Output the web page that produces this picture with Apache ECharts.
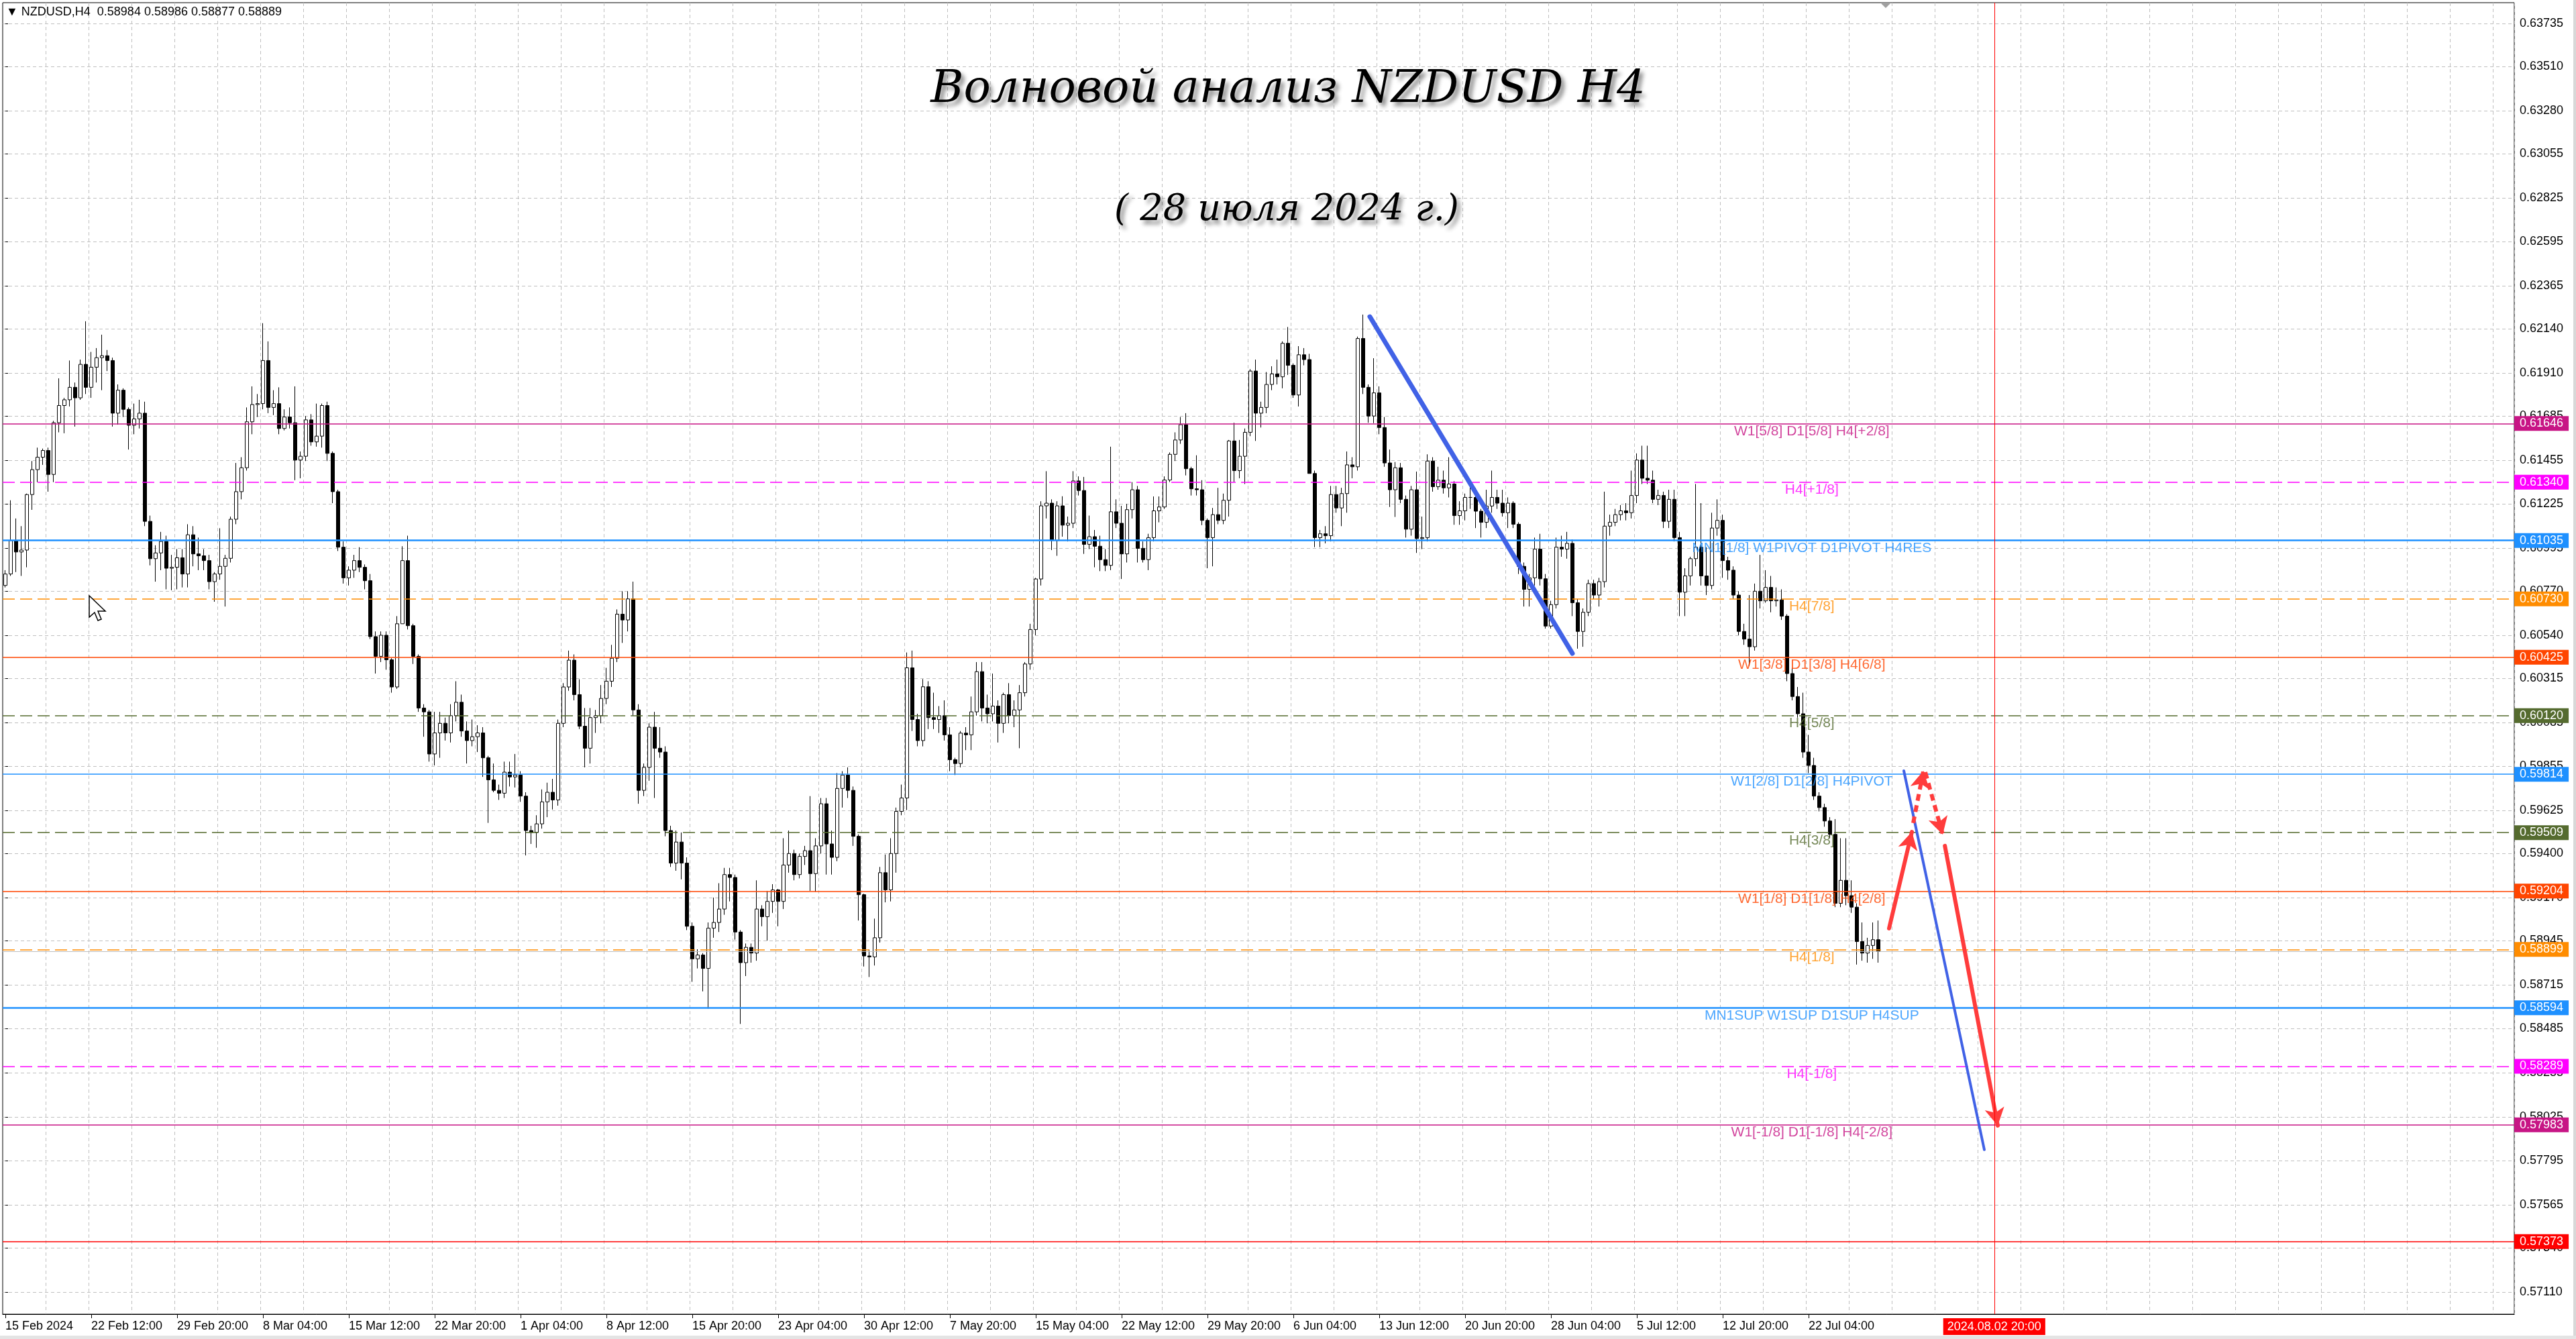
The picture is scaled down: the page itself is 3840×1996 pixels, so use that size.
<!DOCTYPE html>
<html><head><meta charset="utf-8">
<script src="https://cdn.jsdelivr.net/npm/echarts@6/dist/echarts.min.js"></script>
<style>html,body{margin:0;padding:0;background:#fff;overflow:hidden}#c{width:3840px;height:1996px}</style>
</head><body><div id="c"></div>
<script>
// Prices are stored in points (0.00001) above BASE.
const BASE = 0.57;
const OPEN = [
3800,3860,4035,3975,3985,4275,4405,4470,4505,4380,
4650,4740,4770,4835,4780,4955,4835,4940,4990,5000,
4975,4700,4820,4720,4637,4670,4700,4135,3940,3970,
4030,3890,3895,3945,3860,4065,3965,3955,3930,3820,
3860,3900,3942,4146,4290,4415,4655,4745,4750,4975,
4730,4750,4620,4680,4650,4455,4475,4665,4550,4580,
4740,4490,4290,4000,3840,3880,3930,3895,3825,3533,
3430,3540,3412,3270,3600,3930,3590,3430,3160,3140,
2920,3030,3080,3030,3120,3190,3040,2990,3010,3030,
2900,2785,2730,2715,2825,2800,2810,2700,2520,2510,
2555,2670,2720,2680,3080,3270,3410,3230,3065,2950,
3110,3120,3210,3300,3420,3650,3620,3730,3150,2730,
2850,3060,2950,2930,2520,2350,2460,2350,2020,1850,
1870,1800,2010,2040,2110,2290,2275,1990,1830,1910,
1880,2110,2070,2150,2210,2150,2340,2400,2290,2385,
2415,2295,2440,2660,2450,2380,2740,2810,2730,2490,
2185,1865,1860,1960,2300,2210,2400,2620,2690,3370,
3100,2990,3271,3110,3100,3120,3020,2890,2870,3029,
3020,3140,3350,3160,3130,3170,3080,3230,3120,3150,
3240,3390,3570,3834,4216,4230,4035,4216,4115,4125,
4346,4296,4015,4055,4005,3935,3905,4185,4125,3965,
4196,4300,3994,3935,4050,4190,4210,4351,4485,4560,
4640,4410,4305,4300,4140,4050,4170,4140,4245,4555,
4400,4475,4600,4920,4700,4730,4850,4905,4890,5065,
4950,4795,5005,4980,4385,4050,4070,4060,4275,4205,
4280,4430,4420,5090,4835,4685,4806,4625,4440,4300,
4415,4250,4094,4300,4045,4050,4450,4316,4350,4310,
4330,4165,4190,4260,4260,4188,4130,4215,4260,4230,
4180,4230,4120,3900,3780,3840,3990,3835,3588,3700,
4000,3990,4020,3710,3560,3660,3810,3750,3820,4110,
4130,4170,4190,4180,4270,4455,4360,4350,4250,4270,
4135,4250,4050,3765,3850,3940,4000,3850,3800,4100,
4140,3930,3880,3750,3560,3520,3480,3770,3720,3790,
3720,3725,3640,3340,3220,3130,2930,2860,2700,2640,
2570,2500,2140,2260,2180,2120,1940,1880,1920,1950
];
const CLOSE = [
3860,4035,3975,3985,4275,4405,4470,4505,4380,4650,
4740,4770,4835,4780,4955,4835,4940,4990,5000,4975,
4700,4820,4720,4637,4670,4700,4135,3940,3970,4030,
3890,3895,3945,3860,4065,3965,3955,3930,3820,3860,
3900,3942,4146,4290,4415,4655,4745,4750,4975,4730,
4750,4620,4680,4650,4455,4475,4665,4550,4580,4740,
4490,4290,4000,3840,3880,3930,3895,3825,3533,3430,
3540,3412,3270,3600,3930,3590,3430,3160,3140,2920,
3030,3080,3030,3120,3190,3040,2990,3010,3030,2900,
2785,2730,2715,2825,2800,2810,2700,2520,2510,2555,
2670,2720,2680,3080,3270,3410,3230,3065,2950,3110,
3120,3210,3300,3420,3650,3620,3730,3150,2730,2850,
3060,2950,2930,2520,2350,2460,2350,2020,1850,1870,
1800,2010,2040,2110,2290,2275,1990,1830,1910,1880,
2110,2070,2150,2210,2150,2340,2400,2290,2385,2415,
2295,2440,2660,2450,2380,2740,2810,2730,2490,2185,
1865,1860,1960,2300,2210,2400,2620,2690,3370,3100,
2990,3271,3110,3100,3120,3020,2890,2870,3029,3020,
3140,3350,3160,3130,3170,3080,3230,3120,3150,3240,
3390,3570,3834,4216,4230,4035,4216,4115,4125,4346,
4296,4015,4055,4005,3935,3905,4185,4125,3965,4196,
4300,3994,3935,4050,4190,4210,4351,4485,4560,4640,
4410,4305,4300,4140,4050,4170,4140,4245,4555,4400,
4475,4600,4920,4700,4730,4850,4905,4890,5065,4950,
4795,5005,4980,4385,4050,4070,4060,4275,4205,4280,
4430,4420,5090,4835,4685,4806,4625,4440,4300,4415,
4250,4094,4300,4045,4050,4450,4316,4350,4310,4330,
4165,4190,4260,4260,4188,4130,4215,4260,4230,4180,
4230,4120,3900,3780,3840,3990,3835,3588,3700,4000,
3990,4020,3710,3560,3660,3810,3750,3820,4110,4130,
4170,4190,4180,4270,4455,4360,4350,4250,4270,4135,
4250,4050,3765,3850,3940,4000,3850,3800,4100,4140,
3930,3880,3750,3560,3520,3480,3770,3720,3790,3720,
3725,3640,3340,3220,3130,2930,2860,2700,2640,2570,
2500,2140,2260,2180,2120,1940,1880,1920,1950,1889
];
const LOW = [
3790,3850,3870,3850,3895,4195,4340,4430,4290,4340,
4600,4595,4735,4630,4770,4800,4780,4860,4820,4920,
4630,4640,4680,4510,4590,4620,4110,3905,3820,3880,
3780,3775,3780,3790,3790,3900,3880,3880,3780,3715,
3830,3690,3920,4120,4250,4400,4590,4680,4720,4700,
4690,4590,4610,4620,4350,4360,4450,4530,4525,4520,
4450,4230,3980,3810,3800,3840,3870,3780,3520,3340,
3400,3360,3240,3260,3600,3570,3390,3140,3010,2880,
2860,2900,2990,2980,3090,3010,2870,2960,2930,2800,
2560,2720,2680,2690,2750,2745,2670,2390,2450,2430,
2530,2590,2630,2650,3060,3250,3200,3050,2850,2870,
3030,3080,3180,3270,3400,3500,3560,3120,2660,2700,
2780,2690,2900,2490,2330,2310,2265,2000,1730,1800,
1680,1590,1960,1990,2080,2150,1950,1510,1760,1830,
1840,2020,1945,2090,2020,2110,2300,2260,2270,2340,
2205,2200,2400,2290,2290,2360,2640,2690,2440,2050,
1810,1755,1815,1935,2145,2150,2300,2600,2627,3040,
2960,2960,3050,3050,3030,2990,2830,2810,2850,2940,
2940,3120,3090,3080,3090,2980,3030,3080,3060,2950,
3220,3360,3540,3800,4150,3985,3955,4055,4030,4100,
4270,3965,3990,3895,3875,3875,3880,4100,3834,3920,
4150,3920,3920,3880,4030,4130,4200,4340,4450,4540,
4375,4270,4270,4115,3890,3900,4120,4120,4160,4340,
4360,4330,4580,4555,4625,4700,4820,4850,4830,4900,
4780,4735,4950,4385,4000,4000,4020,4030,4180,4110,
4180,4360,4400,4800,4650,4648,4590,4420,4210,4158,
4230,4050,4060,3970,3990,4030,4290,4300,4280,4260,
4117,4117,4140,4200,4100,4050,4100,4180,4200,4160,
4100,4100,3860,3690,3690,3800,3800,3575,3575,3680,
3950,3940,3640,3470,3480,3640,3730,3690,3790,4060,
4110,4140,4140,4150,4230,4330,4330,4230,4220,4100,
4100,4030,3640,3640,3800,3900,3800,3750,3780,4060,
3840,3830,3730,3540,3490,3380,3460,3680,3710,3660,
3690,3620,3300,3200,3110,2900,2820,2680,2620,2540,
2480,2120,2120,2130,2090,1820,1840,1830,1850,1830
];
const HIGH = [
3880,4245,4150,4110,4280,4450,4520,4515,4520,4660,
4882,4780,4975,4860,4980,5180,5020,5040,5110,5030,
4990,4850,4830,4730,4750,4770,4760,4165,4010,4080,
4060,3960,3990,3990,4120,4110,4050,3990,3960,3870,
4099,3960,4160,4440,4470,4730,4840,4800,5170,5075,
4820,4835,4720,4730,4840,4500,4685,4695,4750,4750,
4760,4500,4300,4030,3900,3960,4000,3910,3860,3560,
3560,3560,3420,3640,4005,4060,3600,3440,3180,3150,
3140,3140,3110,3180,3300,3230,3090,3100,3070,3060,
2910,2870,2760,2880,2880,2920,2830,2720,2545,2600,
2735,2770,2790,3100,3290,3460,3440,3310,3160,3160,
3150,3280,3370,3490,3675,3770,3770,3820,3180,2870,
3080,3140,3060,2960,2545,2520,2510,2380,2040,1900,
1880,2040,2170,2245,2325,2325,2290,2000,1930,1930,
2260,2130,2205,2240,2215,2480,2520,2420,2400,2440,
2700,2480,2690,2690,2520,2820,2830,2850,2750,2500,
2190,1900,2060,2330,2395,2480,2640,2760,3450,3460,
3130,3311,3300,3240,3170,3200,3060,2900,3040,3060,
3220,3400,3400,3230,3340,3200,3240,3290,3200,3280,
3400,3600,3840,4240,4397,4250,4240,4266,4160,4397,
4370,4367,4165,4090,4060,3990,4525,4250,4216,4226,
4340,4320,4030,4070,4265,4265,4370,4495,4600,4680,
4700,4420,4480,4350,4150,4205,4310,4280,4560,4650,
4560,4620,4930,4980,4760,4915,4945,4980,5075,5150,
4960,5050,5040,5010,4400,4090,4110,4320,4320,4310,
4500,4470,5100,5215,4850,4987,4840,4680,4510,4445,
4440,4270,4320,4395,4160,4485,4470,4420,4400,4470,
4345,4240,4280,4330,4310,4200,4300,4400,4300,4300,
4260,4240,4130,3920,3860,4050,4070,3860,3720,4050,
4060,4080,4040,3730,3680,3830,3830,3840,4290,4170,
4200,4220,4230,4400,4490,4530,4530,4400,4300,4290,
4300,4300,4080,3890,3950,4330,4230,4000,4180,4250,
4170,3950,3900,3770,3600,3750,3810,3960,3880,3850,
3790,3780,3650,3370,3270,3240,3020,2900,2720,2660,
2590,2580,2480,2480,2260,2140,2040,1960,2040,2050
];
// Each candle = two H4 bars; labels every 16 candles (32 H4 bars).
const TIME_LABELS = ['15 Feb 2024','22 Feb 12:00','29 Feb 20:00','8 Mar 04:00','15 Mar 12:00','22 Mar 20:00','1 Apr 04:00','8 Apr 12:00','15 Apr 20:00','23 Apr 04:00','30 Apr 12:00','7 May 20:00','15 May 04:00','22 May 12:00','29 May 20:00','6 Jun 04:00','13 Jun 12:00','20 Jun 20:00','28 Jun 04:00','5 Jul 12:00','12 Jul 20:00','22 Jul 04:00'];
const LABEL_STEP = 16;
const GRID_STEP = 8;
const SLOTS = 468;
const Y_TICKS = [0.63735,0.63510,0.63280,0.63055,0.62825,0.62595,0.62365,0.62140,0.61910,0.61685,0.61455,0.61225,0.60995,0.60770,0.60540,0.60315,0.60085,0.59855,0.59625,0.59400,0.59170,0.58945,0.58715,0.58485,0.58255,0.58025,0.57795,0.57565,0.57340,0.57110];
const Y_MIN = 0.56994, Y_MAX = 0.63844;
const LEVEL_PRICES = [0.61646,0.61340,0.61035,0.60730,0.60425,0.60120,0.59814,0.59509,0.59204,0.58899,0.58594,0.58289,0.57983,0.57373];
const LEVEL_TEXTS = ['W1[5/8] D1[5/8] H4[+2/8]','H4[+1/8]','MN1[1/8] W1PIVOT D1PIVOT H4RES','H4[7/8]','W1[3/8] D1[3/8] H4[6/8]','H4[5/8]','W1[2/8] D1[2/8] H4PIVOT','H4[3/8]','W1[1/8] D1[1/8] H4[2/8]','H4[1/8]','MN1SUP W1SUP D1SUP H4SUP','H4[-1/8]','W1[-1/8] D1[-1/8] H4[-2/8]',''];
const LEVEL_TEXT_X = 336.6;
const BID = 0.58889;
const TREND_BLUE = [[[254.25,0.62204],[292,0.60445]],[[353.75,0.59832],[368.75,0.57853]]];
const ARROWS_SOLID = [[[351,0.59009],[355.25,0.59513]],[[361.4,0.59440],[371.25,0.57979]]];
const ARROWS_DASHED = [[[355.5,0.59559],[357.4,0.59832]],[[357.75,0.59825],[361,0.59499]]];
const FUTURE_X = 370.6, FUTURE_TEXT = '2024.08.02 20:00';
const HEADER = '\u25BC NZDUSD,H4  0.58984 0.58986 0.58877 0.58889';
const TITLE = 'Волновой анализ NZDUSD H4';
const SUBTITLE = '( 28 июля 2024 г.)';

// styles (not data)
const DASH = [18,8];
const LEVEL_STYLE = [
 ['#C71585','solid',1.5],['#FF00FF',DASH,1.5],['#1E90FF','solid',2.5],['#FF8C00',DASH,1.5],
 ['#FF4500','solid',1.5],['#556B2F',DASH,1.5],['#1E90FF','solid',1.5],['#556B2F',DASH,1.5],
 ['#FF4500','solid',1.5],['#FF8C00',DASH,1.5],['#1E90FF','solid',2.5],['#FF00FF',DASH,1.5],
 ['#C71585','solid',1.5],['#FF0000','solid',1.5]
];
const FONT = 'Liberation Sans, Arial, sans-serif';
const X_LEFT = -0.5, X_RIGHT = SLOTS - 0.5;

const p = v => +(BASE + v / 1e5).toFixed(5);
const candles = OPEN.map((o, i) => [p(o), p(CLOSE[i]), p(LOW[i]), p(HIGH[i])]);
const cats = Array.from({length: SLOTS}, (_, i) => String(i));

const hline = (v, color, type, width, label) => {
  const ls = {color: color, type: type, width: width, opacity: 1};
  return [
    {coord: [X_LEFT, v], symbol: 'none', lineStyle: ls, label: label},
    {coord: [X_RIGHT, v], symbol: 'none', lineStyle: ls, label: label}
  ];
};
const levelLines = LEVEL_PRICES.map((v, i) => hline(v, LEVEL_STYLE[i][0], LEVEL_STYLE[i][1], LEVEL_STYLE[i][2],
  {show: true, position: 'end', distance: 0, formatter: v.toFixed(5), color: '#fff',
   backgroundColor: LEVEL_STYLE[i][0], padding: [2, 8, 2, 8], fontSize: 18, fontFamily: FONT}));
levelLines.unshift(hline(BID, '#C0C0C0', 'solid', 1, {show: false}));

const levelTextData = LEVEL_PRICES.map((v, i) => ({
  value: [LEVEL_TEXT_X, v, LEVEL_TEXTS[i]],
  label: {color: LEVEL_STYLE[i][0]}
})).filter(d => d.value[2]);

const seg = (pair, ls, arrow) => [
  {coord: pair[0], symbol: 'none', lineStyle: ls, itemStyle: {color: ls.color}},
  {coord: pair[1], symbol: arrow ? 'arrow' : 'none', symbolSize: arrow ? [22, 26] : 0, lineStyle: ls, itemStyle: {color: ls.color}}
];
const overlayLines = [];
TREND_BLUE.forEach((s, i) => overlayLines.push(seg(s, {color: '#4162E6', width: i === 0 ? 7 : 4, type: 'solid', cap: 'round', opacity: 1}, false)));
ARROWS_SOLID.forEach(s => overlayLines.push(seg(s, {color: '#FF3C3C', width: 6, type: 'solid', cap: 'round', opacity: 1}, true)));
ARROWS_DASHED.forEach(s => overlayLines.push(seg(s, {color: '#FF3C3C', width: 6, type: [10, 7], opacity: 1}, true)));

const chart = echarts.init(document.getElementById('c'), null, {renderer: 'canvas'});
const labelIdx = i => i % LABEL_STEP === 0 && i / LABEL_STEP < TIME_LABELS.length;
chart.setOption({
  animation: false,
  backgroundColor: '#fff',
  grid: {left: 4, top: 4, right: 92, bottom: 37, show: true, borderColor: '#000', borderWidth: 1,
    backgroundColor: '#fff', containLabel: false, outerBoundsMode: 'none'},
  xAxis: [{
    type: 'category', data: cats, boundaryGap: true,
    axisLine: {show: true, lineStyle: {color: '#000', width: 1}},
    axisTick: {show: true, alignWithLabel: true, interval: (i) => labelIdx(i), length: 6, lineStyle: {color: '#000'}},
    axisLabel: {show: true, interval: (i) => labelIdx(i), formatter: (v, i) => TIME_LABELS[i / LABEL_STEP] || '',
      align: 'left', fontSize: 18, fontFamily: FONT, color: '#000', margin: 9},
    splitLine: {show: true, interval: (i) => i % GRID_STEP === 0 && i > 0, lineStyle: {color: '#C0C0C0', type: [5, 4], width: 1}}
  }, {
    type: 'value', min: X_LEFT, max: X_RIGHT, show: false
  }],
  yAxis: [{
    type: 'value', position: 'right', min: Y_MIN, max: Y_MAX,
    axisLine: {show: false},
    axisTick: {show: true, customValues: Y_TICKS, length: 4, lineStyle: {color: '#000'}},
    axisLabel: {customValues: Y_TICKS, formatter: v => v.toFixed(5), fontSize: 18, fontFamily: FONT, color: '#000', margin: 8},
    splitLine: {show: true, lineStyle: {color: '#C0C0C0', type: [5, 4], width: 1}}
  }],
  series: [
    {type: 'line', xAxisIndex: 1, yAxisIndex: 0, data: [], z: 1, silent: true,
     markLine: {silent: true, symbol: ['none', 'none'], animation: false, data: levelLines}},
    {type: 'candlestick', xAxisIndex: 0, yAxisIndex: 0, data: candles, z: 3, barWidth: 5,
     itemStyle: {color: '#fff', color0: '#000', borderColor: '#000', borderColor0: '#000', borderWidth: 1}},
    {type: 'scatter', xAxisIndex: 1, yAxisIndex: 0, symbolSize: 0, z: 4, silent: true, data: levelTextData,
     label: {show: true, position: 'bottom', distance: 1, formatter: prm => prm.data.value[2], fontSize: 21, fontFamily: FONT}},
    {type: 'line', xAxisIndex: 1, yAxisIndex: 0, data: [], z: 5, silent: true,
     markLine: {silent: true, animation: false, symbol: ['none', 'none'], label: {show: false}, data: overlayLines.concat([
       {xAxis: FUTURE_X, lineStyle: {color: '#FF0000', width: 1, type: 'solid', opacity: 1},
        label: {show: true, position: 'start', distance: 6, formatter: FUTURE_TEXT, color: '#fff', backgroundColor: '#FF0000',
          padding: [4, 6, 3, 6], fontSize: 18, fontFamily: FONT}}
     ])}}
  ],
  graphic: [
    {type: 'text', z: 100, left: 9, top: 9, style: {text: HEADER, font: '18px ' + FONT, fill: '#000'}},
    {type: 'text', z: 100, x: 1920, y: 135, style: {text: TITLE, font: 'italic 67px "DejaVu Serif", serif', fill: '#000',
      align: 'center', verticalAlign: 'middle', textShadowColor: 'rgba(0,0,0,0.45)', textShadowBlur: 6, textShadowOffsetX: 5, textShadowOffsetY: 6}},
    {type: 'text', z: 100, x: 1918, y: 314, style: {text: SUBTITLE, font: 'italic 54px "DejaVu Serif", serif', fill: '#000',
      align: 'center', verticalAlign: 'middle', textShadowColor: 'rgba(0,0,0,0.45)', textShadowBlur: 6, textShadowOffsetX: 5, textShadowOffsetY: 6}},
    {type: 'polygon', z: 100, shape: {points: [[2803,4],[2819,4],[2811,12]]}, style: {fill: '#A0A0A0'}},
    {type: 'polygon', z: 100, shape: {points: [[133,888],[133,920],[141,913],[146,925],[151,923],[146,911],[157,911]]},
      style: {fill: '#fff', stroke: '#000', lineWidth: 1.5}},
    {type: 'rect', z: 100, shape: {x: 3836, y: 0, width: 4, height: 1996}, style: {fill: '#D8D8D8'}},
    {type: 'rect', z: 100, shape: {x: 0, y: 1991, width: 3840, height: 5}, style: {fill: '#E4E4E4'}}
  ]
});
</script></body></html>
